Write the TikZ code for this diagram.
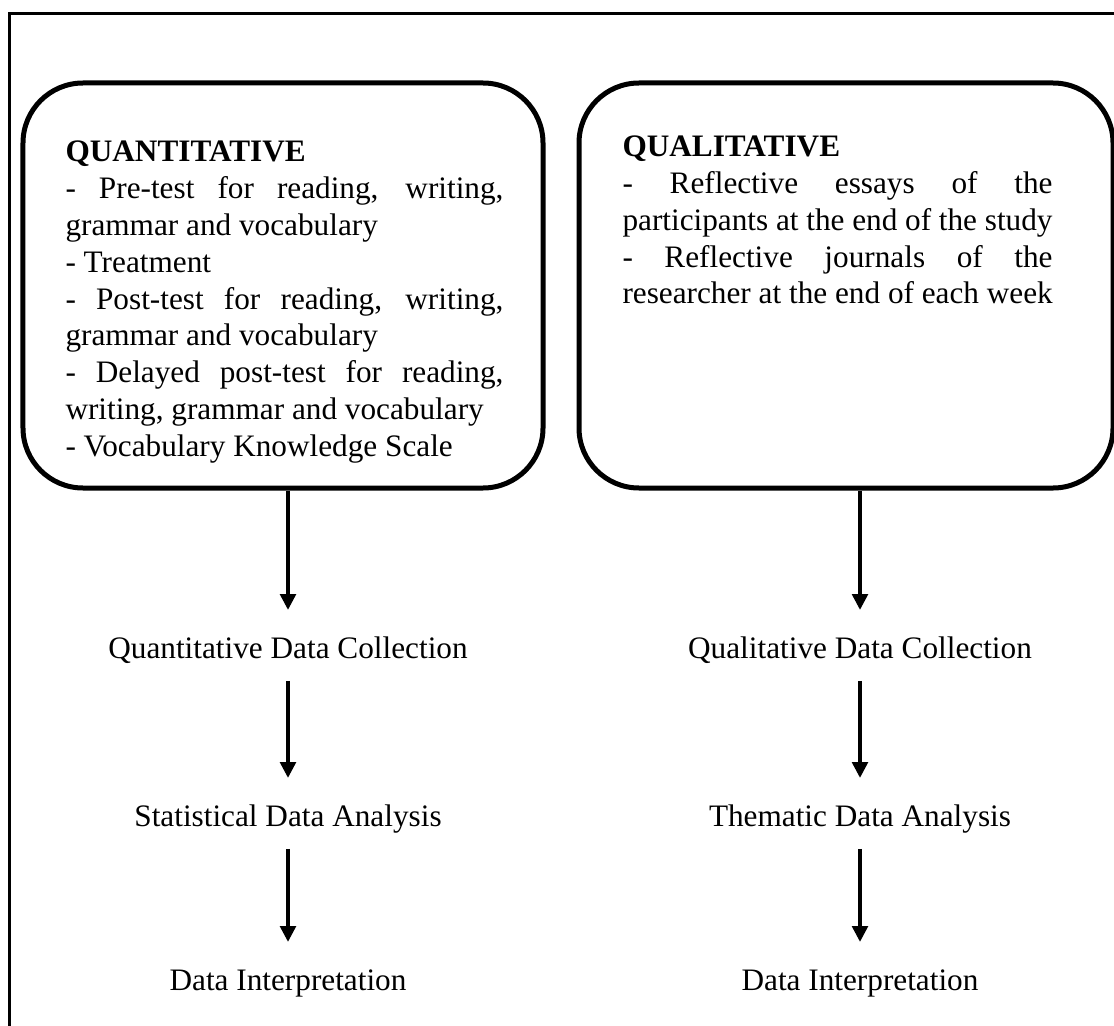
\documentclass[tikz,border=0pt]{standalone}
\usepackage{fontspec}
\setmainfont{Liberation Serif}
\usepackage{tikz}
\usetikzlibrary{calc,arrows.meta,positioning}
\tikzset {>={Triangle[length=6.4pt,width=6.2pt]}}

\begin{document}
\begin{tikzpicture}[x=0.4pt,y=-0.4pt,
  frame/.style={line width=1.2pt},
  panel/.style={draw,line width=2pt,rounded corners=24pt,
                minimum height=162pt,inner sep=0pt},
  boxtext/.style={inner sep=0pt,anchor=base west,align=justify,
                  font=\fontsize{12.5}{14.7}\selectfont},
  step label/.style={inner sep=0pt,anchor=base,text height=8pt,
                     text depth=2.5pt,font=\fontsize{12.5}{14.7}\selectfont},
  flow/.style={->,line width=1.8pt,shorten >=11pt},
  flow on/.style={flow,shorten <=6.4pt}]
\useasboundingbox (0,0) rectangle (1114,1026);
\draw[frame] (9,1040) -- (9,14) -- (1130,14);
% the two method boxes
\node[panel,minimum width=208pt] (quanbox) at (283,285.5) {};
\node[panel,minimum width=213.6pt] (qualbox) at (846,285.5) {};
\node[boxtext,text width=175.2pt] (quantext) at (65,162)
  {\tolerance=10000
   {\bfseries QUANTITATIVE}\par
   - Pre-test for reading, writing,\linebreak grammar and vocabulary\par
   - Treatment\par
   - Post-test for reading, writing,\linebreak grammar and vocabulary\par
   - Delayed post-test for reading,\linebreak writing, grammar and vocabulary\par
   - Vocabulary Knowledge Scale};
\node[boxtext,text width=172pt] (qualtext) at (622,157)
  {\tolerance=10000 \hfuzz=20pt
   {\bfseries QUALITATIVE}\par
   - Reflective essays of the\linebreak participants at the end of the study\par
   - Reflective journals of the\linebreak \mbox{researcher at the end of each week}};
% steps below each box
\node[step label] (quancoll) at (288,658) {Quantitative Data Collection};
\node[step label] (statan)   at (288,826) {Statistical Data Analysis};
\node[step label] (quaninterp) at (288,990) {Data Interpretation};
\node[step label] (qualcoll) at (860,658) {Qualitative Data Collection};
\node[step label] (theman)   at (860,826) {Thematic Data Analysis};
\node[step label] (qualinterp) at (860,990) {Data Interpretation};
\draw[flow] (quancoll |- quanbox.south) -- (quancoll);
\draw[flow on] (quancoll) -- (statan);
\draw[flow on] (statan) -- (quaninterp);
\draw[flow] (qualcoll |- qualbox.south) -- (qualcoll);
\draw[flow on] (qualcoll) -- (theman);
\draw[flow on] (theman) -- (qualinterp);
\end{tikzpicture}
\end{document}
